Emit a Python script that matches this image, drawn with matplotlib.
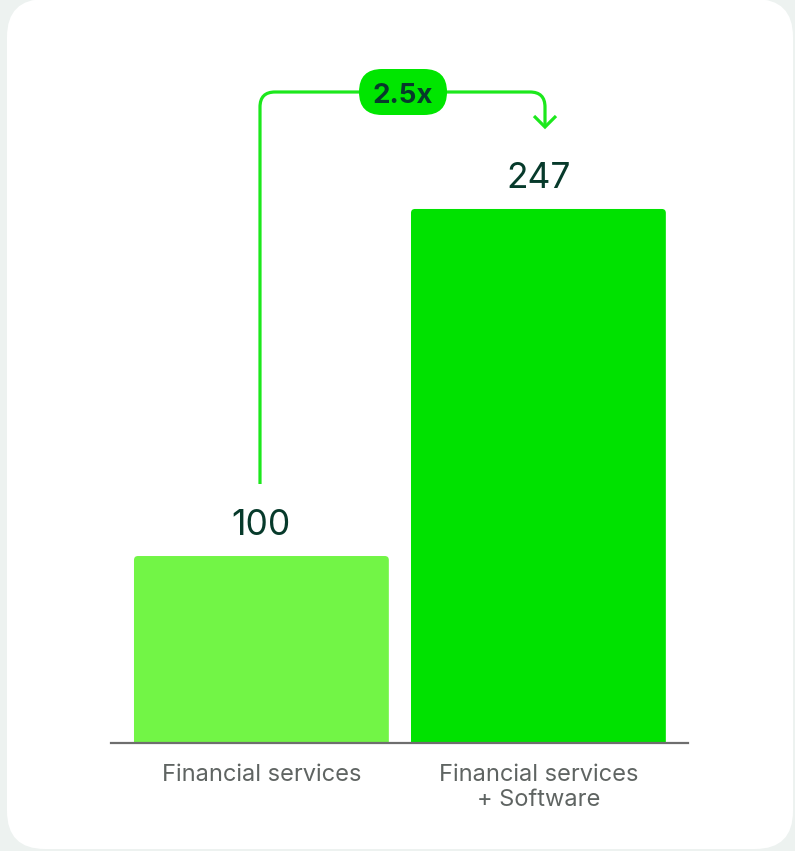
import matplotlib
matplotlib.use("Agg")
import matplotlib.pyplot as plt
from matplotlib.patches import FancyBboxPatch, PathPatch
from matplotlib.path import Path

# Data
categories = ["Financial services", "Financial services\n+ Software"]
values = [100, 247]
bar_colors = ["#72F546", "#00E200"]

W, H = 795, 851
DPI = 100
fig = plt.figure(figsize=(W / DPI, H / DPI), dpi=DPI)
fig.patch.set_facecolor("#EDF2F0")

FONT = ["Inter", "DejaVu Sans"]
DARK = "#073A2B"
GREY = "#5F6462"
ARROW = "#1CE81C"


def px_axes(z):
    a = fig.add_axes([0, 0, 1, 1], zorder=z)
    a.set_xlim(0, W)
    a.set_ylim(H, 0)
    a.axis("off")
    a.patch.set_alpha(0)
    return a


# White card behind everything
bg = px_axes(0)
bg.add_patch(FancyBboxPatch((7, -1), 786, 850,
                            boxstyle="round,pad=0,rounding_size=38",
                            fc="white", ec="none"))

# Chart axes: baseline at y=743 px, spanning x 111..688 px
ax_left, ax_right = 111, 688
ax_bottom, ax_top = 743, 60
ax = fig.add_axes([ax_left / W, (H - ax_bottom) / H,
                   (ax_right - ax_left) / W, (ax_bottom - ax_top) / H], zorder=1)
ax.patch.set_alpha(0)

x = list(range(len(values)))
bar_w = 0.92
bars = ax.bar(x, values, width=bar_w, color=bar_colors)
ax.set_xlim(-0.543, 1.54)
ax.set_ylim(20.8, 310.1)

# Replace plain rectangles with slightly rounded ones
x_px_per_unit = (ax_right - ax_left) / (1.54 + 0.543)
y_px_per_unit = (ax_bottom - ax_top) / (310.1 - 20.8)
r_px = 4
r_x = r_px / x_px_per_unit
aspect = (r_px / y_px_per_unit) / r_x
for rect, c in zip(bars, bar_colors):
    rect.set_visible(False)
    patch = FancyBboxPatch((rect.get_x(), rect.get_y()), rect.get_width(), rect.get_height(),
                           boxstyle=f"round,pad=0,rounding_size={r_x}",
                           mutation_aspect=aspect, fc=c, ec="none", zorder=2)
    ax.add_patch(patch)

# Value labels above bars
for xi, v in zip(x, values):
    ax.annotate(f"{v}", (xi, v), xytext=(0, 15), textcoords="offset points",
                ha="center", va="baseline", fontsize=25.5, color=DARK,
                family=FONT)

for s in ["top", "right", "left"]:
    ax.spines[s].set_visible(False)
ax.spines["bottom"].set_color("#6E6E6E")
ax.spines["bottom"].set_linewidth(1.6)
ax.spines["bottom"].set_zorder(3)
ax.set_yticks([])
ax.set_xticks(x)
ax.set_xticklabels(categories, fontsize=17, color=GREY, family=FONT, linespacing=1.18)
ax.tick_params(axis="x", length=0, pad=15)

# Connector arrow with ratio badge
fg = px_axes(3)
lx, rx, ty, r = 260, 545, 92, 15
start_y, tip_y = 484, 127
verts = [(lx, start_y), (lx, ty + r), (lx, ty), (lx + r, ty),
         (rx - r, ty), (rx, ty), (rx, ty + r), (rx, tip_y)]
codes = [Path.MOVETO, Path.LINETO, Path.CURVE3, Path.CURVE3,
         Path.LINETO, Path.CURVE3, Path.CURVE3, Path.LINETO]
fg.add_patch(PathPatch(Path(verts, codes), fc="none", ec=ARROW, lw=2.3,
                       capstyle="butt", joinstyle="round"))
fg.plot([rx - 11, rx, rx + 11], [tip_y - 11, tip_y, tip_y - 11], color=ARROW,
        lw=2.3, solid_joinstyle="miter", solid_capstyle="butt")

bw, bh = 88, 46
bx = 403
fg.add_patch(FancyBboxPatch((bx - bw / 2, ty - bh / 2), bw, bh,
                            boxstyle=f"round,pad=0,rounding_size={bh / 2}",
                            fc="#00E600", ec="none"))
ratio = values[1] / values[0]
fg.text(bx, ty + 1, f"{ratio:.1f}x", ha="center", va="center_baseline",
        fontsize=20, fontweight="bold", color=DARK, family=FONT)

fig.savefig("out.png", dpi=DPI, facecolor=fig.get_facecolor())
